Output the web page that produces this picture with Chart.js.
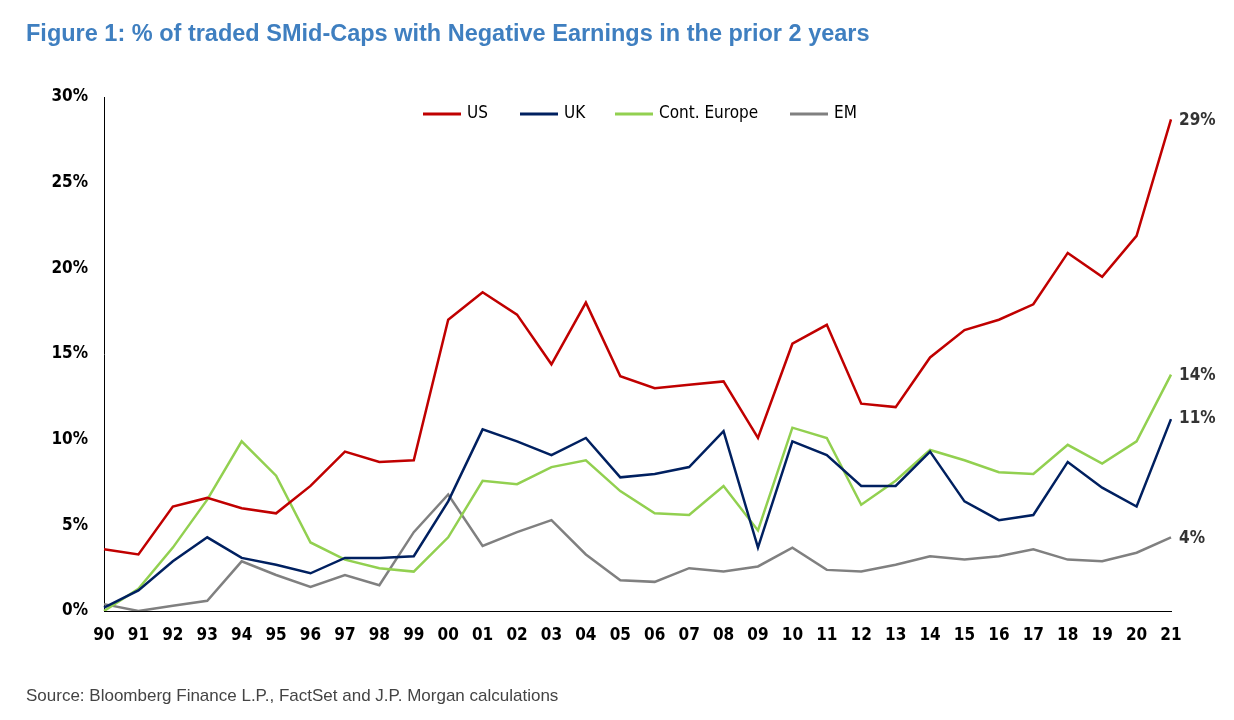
<!DOCTYPE html>
<html><head><meta charset="utf-8">
<script src="https://cdn.jsdelivr.net/npm/chart.js@4"></script>
<style>
html,body{margin:0;padding:0;background:#fff;width:1234px;height:720px;overflow:hidden;font-family:"Liberation Sans",Arial,sans-serif}
#t{position:absolute;left:26px;top:20px;font-size:23.5px;font-weight:bold;color:#3f7fc0}
#s{position:absolute;left:26px;top:686px;font-size:17px;color:#444}
canvas{position:absolute;left:0;top:0}
</style></head><body>
<canvas id="c" width="1234" height="720"></canvas>
<div id="t">Figure 1: % of traded SMid-Caps with Negative Earnings in the prior 2 years</div>
<div id="s">Source: Bloomberg Finance L.P., FactSet and J.P. Morgan calculations</div>
<script>
const years=["90","91","92","93","94","95","96","97","98","99","00","01","02","03","04","05","06","07","08","09","10","11","12","13","14","15","16","17","18","19","20","21"];
const us=[3.6,3.3,6.1,6.6,6.0,5.7,7.3,9.3,8.7,8.8,17.0,18.6,17.3,14.4,18.0,13.7,13.0,13.2,13.4,10.1,15.6,16.7,12.1,11.9,14.8,16.4,17.0,17.9,20.9,19.5,21.9,28.7];
const uk=[0.2,1.2,2.9,4.3,3.1,2.7,2.2,3.1,3.1,3.2,6.4,10.6,9.9,9.1,10.1,7.8,8.0,8.4,10.5,3.7,9.9,9.1,7.3,7.3,9.3,6.4,5.3,5.6,8.7,7.2,6.1,11.2];
const eu=[0.0,1.3,3.7,6.5,9.9,7.9,4.0,3.0,2.5,2.3,4.3,7.6,7.4,8.4,8.8,7.0,5.7,5.6,7.3,4.7,10.7,10.1,6.2,7.6,9.4,8.8,8.1,8.0,9.7,8.6,9.9,13.8];
const em=[0.4,0.0,0.3,0.6,2.9,2.1,1.4,2.1,1.5,4.6,6.8,3.8,4.6,5.3,3.3,1.8,1.7,2.5,2.3,2.6,3.7,2.4,2.3,2.7,3.2,3.0,3.2,3.6,3.0,2.9,3.4,4.3];
const endLabels=["29%","11%","14%","4%"];
const names=["US","UK","Cont. Europe","EM"];
const colors=["#c00000","#002060","#92d050","#808080"];
const F='"DejaVu Sans Condensed","Liberation Sans Narrow","Arial Narrow",sans-serif';
const labelY=[28.7,11.3,13.8,4.3];
const extras={id:'extras',afterDraw(ch){
 const c=ch.ctx,y=ch.scales.y,a=ch.chartArea;
 c.save();c.font='bold 17px '+F;c.textBaseline='middle';
 endLabels.forEach((t,i)=>{c.fillStyle='#333';c.fillText(t,a.right+8,y.getPixelForValue(labelY[i])+1);});
 const lx=[423,520,615,790];
 names.forEach((n,i)=>{c.strokeStyle=colors[i];c.lineWidth=3;c.beginPath();c.moveTo(lx[i],114);c.lineTo(lx[i]+38,114);c.stroke();
  c.fillStyle='#000';c.font='17px '+F;c.fillText(n,lx[i]+44,114);});
 c.restore();}};
new Chart(document.getElementById('c'),{type:'line',
 data:{labels:years,datasets:[us,uk,eu,em].map((d,i)=>({label:names[i],data:d,borderColor:colors[i],borderWidth:2.5,pointRadius:0,tension:0}))},
 options:{responsive:false,animation:false,
  layout:{padding:{left:0,right:63,top:97,bottom:69}},
  plugins:{legend:{display:false},tooltip:{enabled:false}},
  scales:{
   x:{offset:false,afterFit(s){s.height=40},grid:{display:false},border:{color:'#000',width:1},
      ticks:{color:'#000',font:{family:F,size:17,weight:'bold'},maxRotation:0,autoSkip:false,padding:6}},
   y:{min:0,max:30,afterFit(s){s.width=104},grid:{display:false},border:{color:'#000',width:1},
      ticks:{stepSize:5,color:'#000',font:{family:F,size:17,weight:'bold'},callback:v=>v+'%',padding:8}}}},
 plugins:[extras]});
</script></body></html>
